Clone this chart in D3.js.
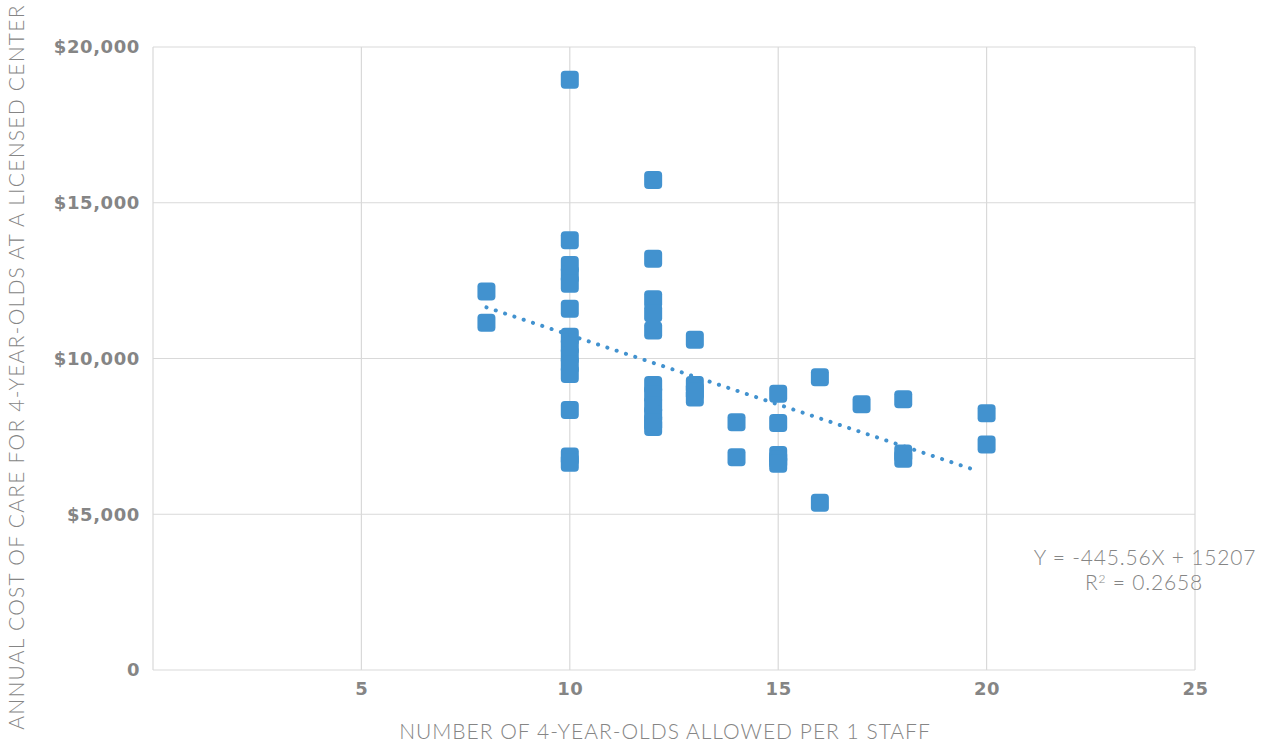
<!DOCTYPE html>
<html><head><meta charset="utf-8">
<script src="https://cdn.jsdelivr.net/npm/d3@7"></script>
<style>body{margin:0;background:#fff}svg{display:block}</style>
</head><body>
<svg id="c" width="1272" height="742"></svg>
<script>
// Data: [children per staff, annual cost]
const ratios = [8,8,
  10,10,10,10,10,10,10,10,10,10,10,10,10,10,
  12,12,12,12,12,12,12,12,12,12,12,
  13,13,13,13,
  14,14,
  15,15,15,15,15,
  16,16,
  17,
  18,18,18,
  20,20];
const costs = [12150,11150,
  18950,13800,13000,12700,12400,11600,10700,10400,10100,9800,9500,8350,6850,6650,
  15730,13200,11900,11450,10900,9150,8850,8500,8200,7950,7800,
  10600,9150,8950,8750,
  7950,6830,
  8870,7930,6900,6750,6620,
  9400,5370,
  8530,
  8690,6950,6780,
  8240,7240];
const xTicks = [5,10,15,20,25];
const yTicks = [0,5000,10000,15000,20000];
const slope = -445.56, intercept = 15207;
const trendRange = [8, 19.8];
const eqText = "Y = -445.56X + 15207";
const r2Text = "0.2658";

const svg = d3.select("#c");
const x = d3.scaleLinear().domain([0,25]).range([153,1195]);
const y = d3.scaleLinear().domain([0,20000]).range([670,47]);
const grid = "#d9d9d9", txt = "#858585";

// gridlines
svg.append("g").selectAll("line").data(yTicks).join("line")
  .attr("x1",x(0)).attr("x2",x(25)).attr("y1",d=>y(d)).attr("y2",d=>y(d))
  .attr("stroke",grid).attr("stroke-width",1.2);
svg.append("g").selectAll("line").data([0,...xTicks]).join("line")
  .attr("y1",y(0)).attr("y2",y(20000)).attr("x1",d=>x(d)).attr("x2",d=>x(d))
  .attr("stroke",grid).attr("stroke-width",1.2);

// axes labels via d3 axes
const fmt = d => d===0 ? "0" : "$" + d3.format(",")(d);
const yAxis = svg.append("g").attr("transform",`translate(${x(0)},0)`)
  .call(d3.axisLeft(y).tickValues(yTicks).tickFormat(fmt).tickSize(0).tickPadding(13));
yAxis.select(".domain").remove();
yAxis.selectAll("text").attr("fill",txt).attr("font-family","'DejaVu Sans'")
  .attr("font-weight","bold").attr("font-size",18).attr("letter-spacing",0.6);

const xAxis = svg.append("g").attr("transform",`translate(0,${y(0)})`)
  .call(d3.axisBottom(x).tickValues(xTicks).tickSize(0).tickPadding(12));
xAxis.select(".domain").remove();
xAxis.selectAll("text").attr("fill",txt).attr("font-family","'DejaVu Sans'")
  .attr("font-weight","bold").attr("font-size",18).attr("letter-spacing",0.6);

// points
const pts = ratios.map((r,i)=>({r, c: costs[i]}));
svg.append("g").selectAll("rect").data(pts).join("rect")
  .attr("x",d=>x(d.r)-9).attr("y",d=>y(d.c)-9).attr("width",18).attr("height",18)
  .attr("rx",4).attr("fill","#4292cf");

// trendline
svg.append("line")
  .attr("x1",x(trendRange[0])).attr("y1",y(slope*trendRange[0]+intercept))
  .attr("x2",x(trendRange[1])).attr("y2",y(slope*trendRange[1]+intercept))
  .attr("stroke","#4292cf").attr("stroke-width",4).attr("stroke-linecap","round")
  .attr("stroke-dasharray","0.1 9.7");

// equation
const eq = svg.append("g").attr("font-family","Lato").attr("font-weight",300)
  .attr("fill",txt).attr("font-size",21).attr("letter-spacing",0.8).attr("text-anchor","middle");
eq.append("text").attr("x",1145).attr("y",565).text(eqText);
const r2 = eq.append("text").attr("x",1144).attr("y",590);
r2.append("tspan").text("R");
r2.append("tspan").attr("font-size",12).attr("dy",-7).text("2");
r2.append("tspan").attr("dy",7).text(" = " + r2Text);

// axis titles
svg.append("text").attr("x",665).attr("y",739).attr("text-anchor","middle")
  .attr("font-family","Lato").attr("font-weight",300).attr("font-size",21).attr("letter-spacing",1.0)
  .attr("fill",txt).text("NUMBER OF 4-YEAR-OLDS ALLOWED PER 1 STAFF");
svg.append("text").attr("transform","translate(24,367) rotate(-90)").attr("text-anchor","middle")
  .attr("font-family","Lato").attr("font-weight",300).attr("font-size",21).attr("letter-spacing",1.25)
  .attr("fill",txt).text("ANNUAL COST OF CARE FOR 4-YEAR-OLDS AT A LICENSED CENTER");
</script>
</body></html>
